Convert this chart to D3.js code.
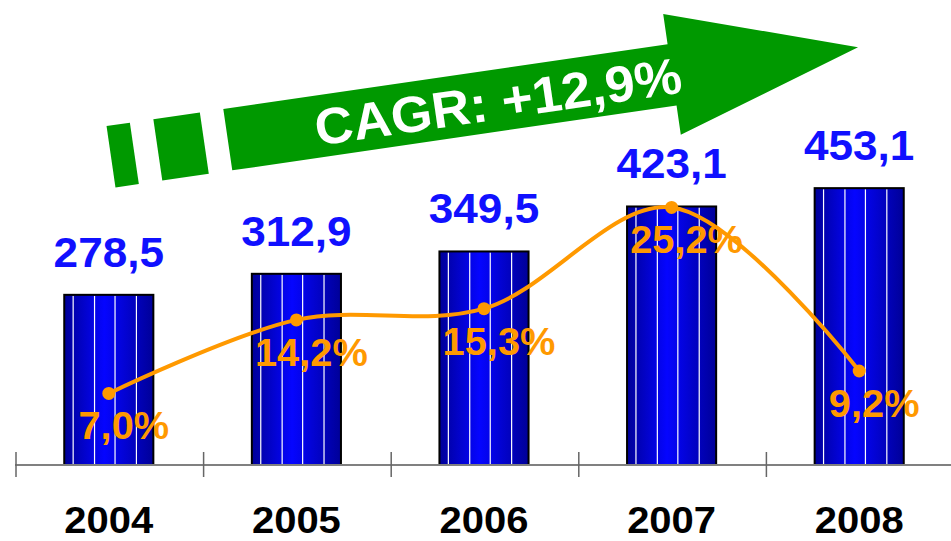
<!DOCTYPE html>
<html>
<head>
<meta charset="utf-8">
<script src="https://cdn.jsdelivr.net/npm/d3@7"></script>
<style>
  html, body { margin: 0; padding: 0; background: #fff; }
  svg { display: block; font-family: "Liberation Sans", Arial, sans-serif; }
</style>
</head>
<body>
<svg id="chart" width="951" height="541"></svg>
<script>
// data
const years = ["2004", "2005", "2006", "2007", "2008"];
const revenue = [278.5, 312.9, 349.5, 423.1, 453.1];
const growth = [7.0, 14.2, 15.3, 25.2, 9.2];
const cagrText = "CAGR: +12,9%";

const W = 951, H = 541;
const svg = d3.select("#chart");
const baseY = 465;

// comma as decimal sign
const locale = d3.formatLocale({decimal: ",", thousands: ".", grouping: [3], currency: ["", ""]});
const fmt = locale.format(".1f");

// the original font runs a bit wider than Liberation Sans
function widen(sel, k) {
    sel.each(function () {
        let len = this.getComputedTextLength();
        d3.select(this).attr("textLength", len * k).attr("lengthAdjust", "spacingAndGlyphs");
    });
}

// scales
let x = d3.scaleBand().domain(years).range([15, 953]).padding(0);
let y = d3.scaleLinear().domain([0, 761]).range([baseY, 0]);
let y2 = d3.scaleLinear().domain([0, 45.5]).range([baseY, 0]);
const barW = x.bandwidth() * 0.475;
const cx = d => x(d) + x.bandwidth() / 2;

// bar gradient
const defs = svg.append("defs");
const grad = defs.append("linearGradient").attr("id", "barGrad")
    .attr("x1", "0%").attr("x2", "100%").attr("y1", "0%").attr("y2", "0%");
grad.append("stop").attr("offset", "0%").attr("stop-color", "#000098");
grad.append("stop").attr("offset", "45%").attr("stop-color", "#0505ff");
grad.append("stop").attr("offset", "100%").attr("stop-color", "#000098");

//Draw the green arrow
const arrow = svg.append("g").attr("transform", "translate(223.3,109) rotate(-8.3)");
arrow.append("path")
    .attr("d", "M0,0 L449,0 L449,-30.5 L637,30.5 L449,91.5 L449,62 L0,62 Z")
    .attr("fill", "#009900");
arrow.append("rect").attr("x", -70.7).attr("y", 0).attr("width", 47).attr("height", 62).attr("fill", "#009900");
arrow.append("rect").attr("x", -118).attr("y", 0).attr("width", 23.6).attr("height", 62).attr("fill", "#009900");
arrow.append("text")
    .attr("x", 88).attr("y", 50)
    .attr("fill", "#fff")
    .attr("font-size", 51)
    .attr("font-weight", "bold")
    .text(cagrText)
    .call(widen, 1.04);

//Draw bars
const bars = svg.append("g").selectAll("g")
    .data(years)
    .enter().append("g");
bars.append("rect")
    .attr("x", d => cx(d) - barW / 2)
    .attr("y", (d, i) => y(revenue[i]))
    .attr("width", barW)
    .attr("height", (d, i) => baseY - y(revenue[i]))
    .attr("fill", "url(#barGrad)");
// white stripes in bars
[0.1, 0.34, 0.57, 0.81].forEach(f => {
    bars.append("line")
        .attr("x1", d => cx(d) - barW / 2 + f * barW)
        .attr("x2", d => cx(d) - barW / 2 + f * barW)
        .attr("y1", (d, i) => y(revenue[i]) + 1)
        .attr("y2", baseY)
        .attr("stroke", "#fff")
        .attr("stroke-width", 1.2);
});
bars.append("rect")
    .attr("x", d => cx(d) - barW / 2)
    .attr("y", (d, i) => y(revenue[i]))
    .attr("width", barW)
    .attr("height", (d, i) => baseY - y(revenue[i]))
    .attr("fill", "none")
    .attr("stroke", "#000")
    .attr("stroke-width", 2);

//Value labels
svg.append("g").selectAll("text")
    .data(years)
    .enter().append("text")
    .attr("x", d => cx(d))
    .attr("y", (d, i) => y(revenue[i]) - 28)
    .attr("text-anchor", "middle")
    .attr("font-size", 42)
    .attr("font-weight", "bold")
    .attr("fill", "#1010ff")
    .text((d, i) => fmt(revenue[i]))
    .call(widen, 1.05);

//Axis
const axis = svg.append("g");
axis.append("line")
    .attr("x1", 15).attr("x2", W)
    .attr("y1", baseY).attr("y2", baseY)
    .attr("stroke", "#808080").attr("stroke-width", 2);
axis.selectAll(".tick")
    .data(years)
    .enter().append("line")
    .attr("x1", d => x(d) + 1).attr("x2", d => x(d) + 1)
    .attr("y1", baseY - 13).attr("y2", baseY + 12)
    .attr("stroke", "#666").attr("stroke-width", 1.5);
axis.selectAll(".year")
    .data(years)
    .enter().append("text")
    .attr("x", d => cx(d))
    .attr("y", 533)
    .attr("text-anchor", "middle")
    .attr("font-size", 37)
    .attr("font-weight", "bold")
    .attr("fill", "#000")
    .text(d => d)
    .call(widen, 1.08);

//Growth line
const line = d3.line()
    .x((d, i) => cx(years[i]))
    .y(d => y2(d))
    .curve(d3.curveCatmullRom.alpha(0.5));
svg.append("path")
    .datum(growth)
    .attr("d", line)
    .attr("fill", "none")
    .attr("stroke", "#ff9900")
    .attr("stroke-width", 4);
svg.append("g").selectAll("circle")
    .data(growth)
    .enter().append("circle")
    .attr("cx", (d, i) => cx(years[i]))
    .attr("cy", d => y2(d))
    .attr("r", 6.5)
    .attr("fill", "#ff9900");
svg.append("g").selectAll("text")
    .data(growth)
    .enter().append("text")
    .attr("x", (d, i) => cx(years[i]) + 15)
    .attr("y", d => y2(d) + 46)
    .attr("text-anchor", "middle")
    .attr("font-size", 39)
    .attr("font-weight", "bold")
    .attr("fill", "#ff9900")
    .text(d => fmt(d) + "%")
    .call(widen, 1.02);
</script>
</body>
</html>
